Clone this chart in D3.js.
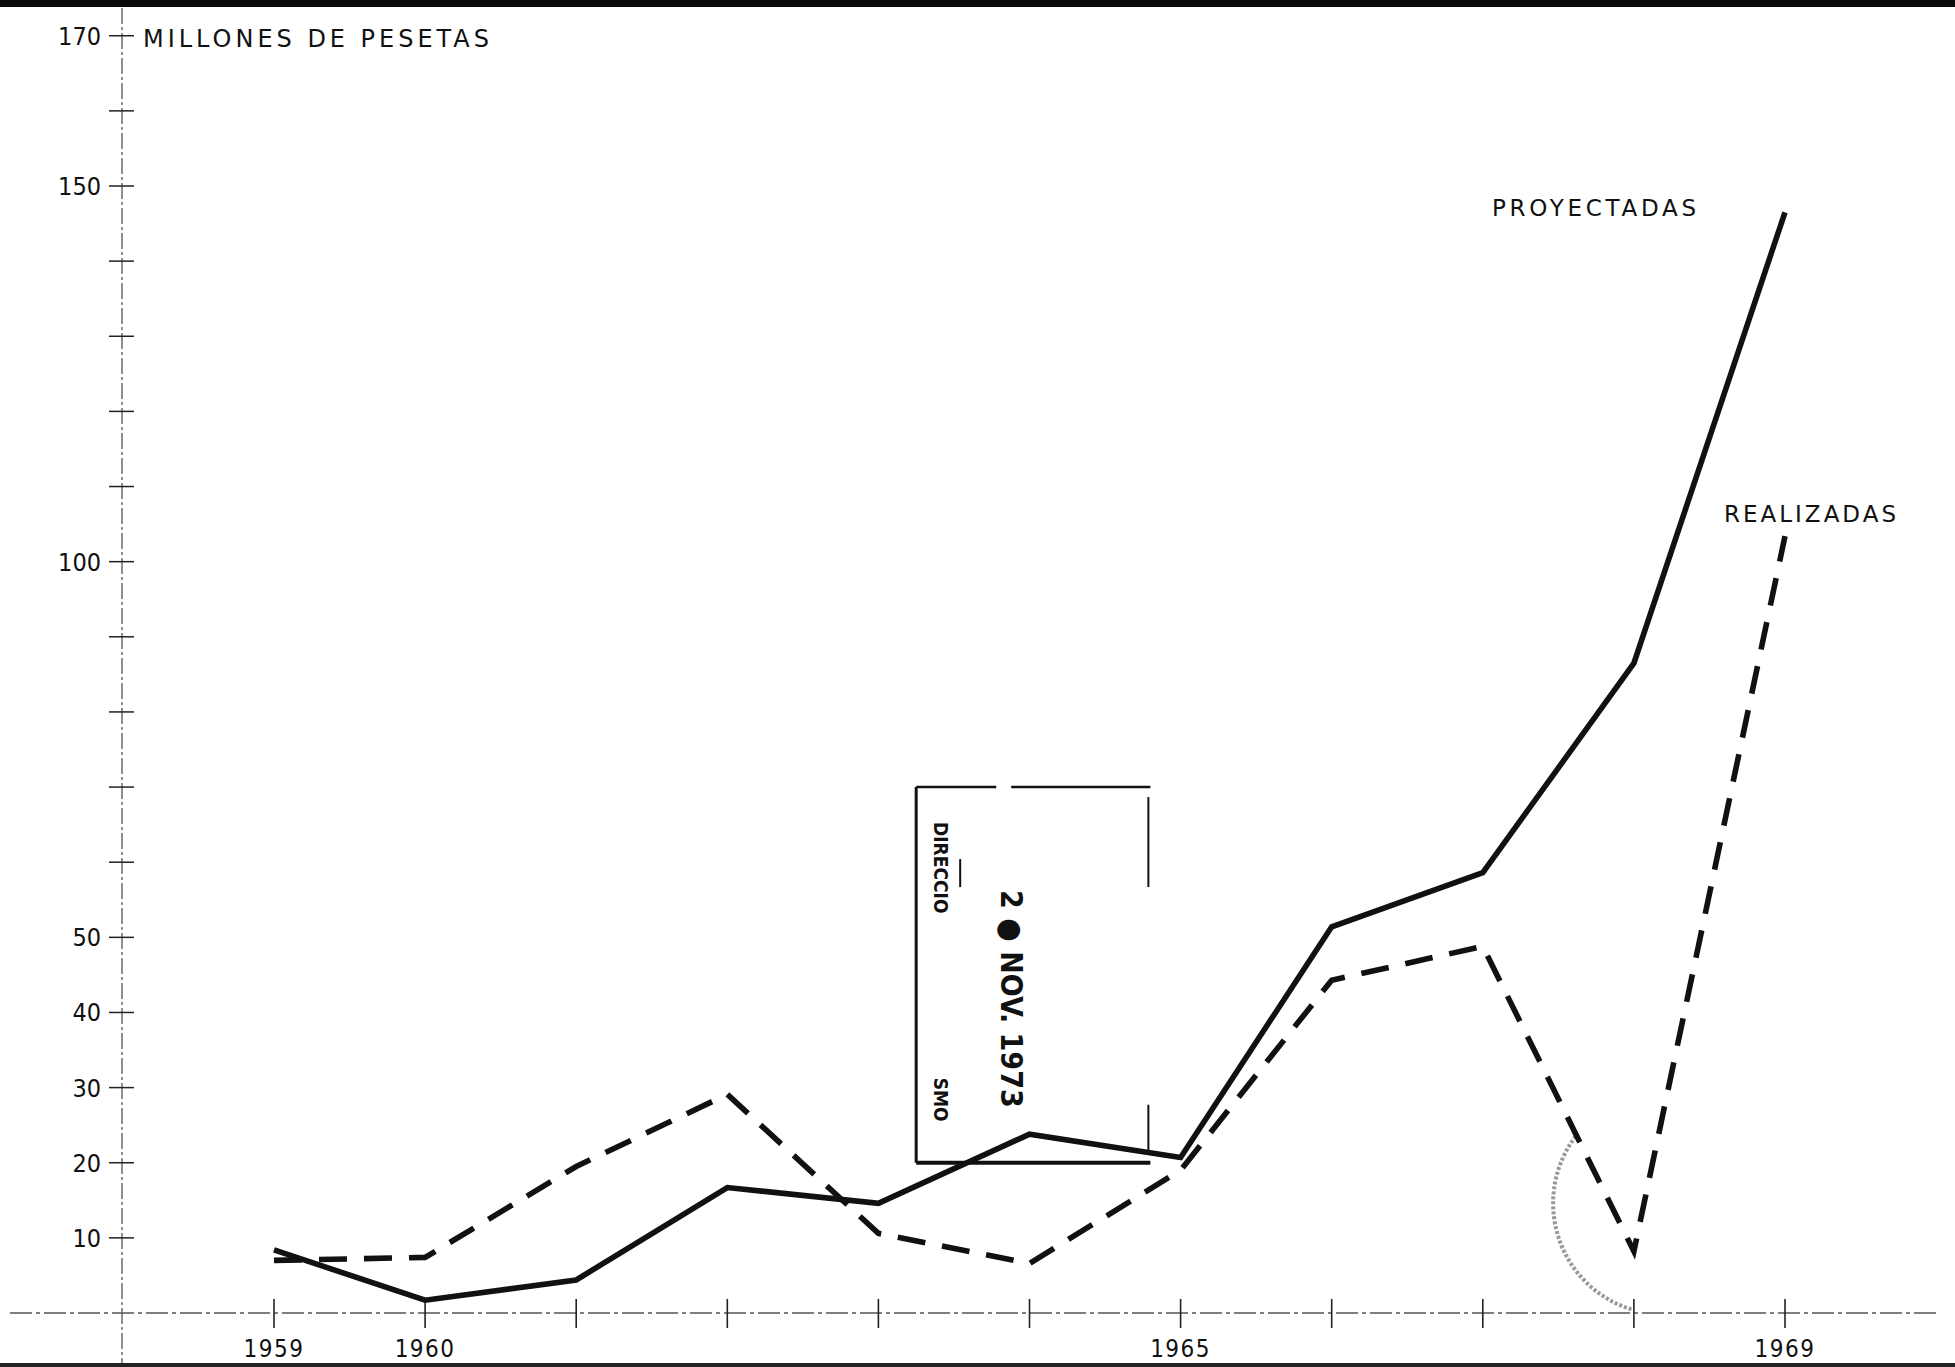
<!DOCTYPE html>
<html>
<head>
<meta charset="utf-8">
<script src="https://cdn.jsdelivr.net/npm/d3@7"></script>
<style>
  html, body { margin: 0; padding: 0; background: #ffffff; }
  svg { display: block; }
</style>
</head>
<body>
<div id="chart"></div>
<script>
// ---- data ----
const years = [1959, 1960, 1961, 1962, 1963, 1964, 1965, 1966, 1967, 1968, 1969];
const proyectadas = [8.4, 1.7, 4.4, 16.7, 14.6, 23.8, 20.7, 51.4, 58.6, 86.5, 146.5];
const realizadas  = [7.0, 7.4, 19.5, 29.1, 10.6, 6.6, 19.0, 44.3, 48.8, 8.2, 103.4];
const yTickValues = [10, 20, 30, 40, 50, 60, 70, 80, 90, 100, 110, 120, 130, 140, 150, 160, 170];
const yTickLabels = [10, 20, 30, 40, 50, 100, 150, 170];
const xTickLabels = [1959, 1960, 1965, 1969];
const unitLabel = "MILLONES DE PESETAS";
const seriesNames = ["PROYECTADAS", "REALIZADAS"];
// stamp (scan annotation) extents in data units
const stampYears = [1963.25, 1964.8];
const stampValues = [20, 70];

const W = 1955, H = 1367;
const svg = d3.select("#chart").append("svg").attr("width", W).attr("height", H);
svg.append("rect").attr("width", W).attr("height", H).attr("fill", "#fff");

const x = d3.scaleLinear().domain([1959, 1969]).range([274, 1785]);
const y = d3.scaleLinear().domain([0, 150]).range([1313, 186]);
const axisX = 122;
const ink = "#111";
const fontNum = "'DejaVu Sans Condensed', 'DejaVu Sans', sans-serif";
const fontTxt = "'DejaVu Sans', 'Liberation Sans', sans-serif";

// page borders (scan frame)
svg.append("rect").attr("x", 0).attr("y", 0).attr("width", W).attr("height", 7).attr("fill", "#0a0a0a");
svg.append("rect").attr("x", 0).attr("y", H - 4).attr("width", W).attr("height", 4).attr("fill", "#222");

// y axis line
svg.append("line").attr("x1", axisX).attr("x2", axisX).attr("y1", 8).attr("y2", H - 4)
  .attr("stroke", "#555").attr("stroke-width", 1.3).attr("stroke-dasharray", "16,3,3,3");
// y ticks (crossing)
svg.append("g").selectAll("line").data(yTickValues).join("line")
  .attr("x1", axisX - 13).attr("x2", axisX + 12)
  .attr("y1", d => y(d)).attr("y2", d => y(d))
  .attr("stroke", "#222").attr("stroke-width", 1.5);
svg.append("g").selectAll("text").data(yTickLabels).join("text")
  .attr("x", axisX - 21).attr("y", d => y(d) + 9)
  .attr("text-anchor", "end").attr("font-family", fontNum).attr("font-size", 25)
  .attr("fill", ink).text(d => d);

// x axis line
svg.append("line").attr("x1", 10).attr("x2", 1940).attr("y1", y(0)).attr("y2", y(0))
  .attr("stroke", "#555").attr("stroke-width", 1.5).attr("stroke-dasharray", "22,4,4,4");
svg.append("g").selectAll("line").data(years).join("line")
  .attr("x1", d => x(d)).attr("x2", d => x(d))
  .attr("y1", y(0) - 14).attr("y2", y(0) + 15)
  .attr("stroke", "#222").attr("stroke-width", 1.6);
svg.append("g").selectAll("text").data(xTickLabels).join("text")
  .attr("x", d => x(d)).attr("y", y(0) + 44)
  .attr("text-anchor", "middle").attr("font-family", fontNum).attr("font-size", 24)
  .attr("letter-spacing", 1.5).attr("fill", ink).text(d => d);

// unit label
svg.append("text").attr("x", 143).attr("y", y(170) + 11)
  .attr("font-family", fontTxt).attr("font-size", 24).attr("fill", ink)
  .attr("textLength", 346).attr("lengthAdjust", "spacing").text(unitLabel);

// stamp box (annotation from scan)
const sx0 = x(stampYears[0]), sx1 = x(stampYears[1]);
const sy0 = y(stampValues[1]), sy1 = y(stampValues[0]);
const stamp = svg.append("g").attr("fill", "none").attr("stroke", ink);
stamp.append("line").attr("x1", sx0).attr("x2", sx0).attr("y1", sy0).attr("y2", sy1).attr("stroke-width", 3);
stamp.append("line").attr("x1", sx0).attr("x2", sx0 + 80).attr("y1", sy0).attr("y2", sy0).attr("stroke-width", 2.5);
stamp.append("line").attr("x1", sx0 + 95).attr("x2", sx1).attr("y1", sy0).attr("y2", sy0).attr("stroke-width", 2.5);
stamp.append("line").attr("x1", sx0).attr("x2", sx1).attr("y1", sy1).attr("y2", sy1).attr("stroke-width", 4);
stamp.append("line").attr("x1", sx1 - 2).attr("x2", sx1 - 2).attr("y1", sy0 + 10).attr("y2", sy0 + 100).attr("stroke-width", 2);
stamp.append("line").attr("x1", sx1 - 2).attr("x2", sx1 - 2).attr("y1", sy1 - 58).attr("y2", sy1 - 8).attr("stroke-width", 2);
stamp.append("line").attr("x1", sx0 + 44).attr("x2", sx0 + 44).attr("y1", sy0 + 72).attr("y2", sy0 + 100).attr("stroke-width", 2);
const stampText = (txt, cx, cy, size, weight) =>
  svg.append("text").attr("transform", `translate(${cx},${cy}) rotate(90)`)
    .attr("font-family", fontNum).attr("font-size", size).attr("font-weight", weight)
    .attr("fill", ink).attr("dominant-baseline", "central").text(txt);
stampText("DIRECCIO", sx0 + 25, sy0 + 35, 19, "bold");
stampText("2 ● NOV. 1973", sx0 + 95, sy0 + 103, 30, "bold");
stampText("SMO", sx0 + 25, sy1 - 85, 19, "bold");

// faint round stamp arc (left part of a circle)
const cx = x(1968.2), cy = y(14.6), r = 111;
const p = d3.path();
p.arc(cx, cy, r, 3.79, 1.85, true);
svg.append("path").attr("d", p.toString())
  .attr("fill", "none").attr("stroke", "#555").attr("stroke-width", 4)
  .attr("stroke-dasharray", "3,2").attr("opacity", 0.6);

// series lines
const line = d3.line().x((d, i) => x(years[i])).y(d => y(d));
svg.append("path").datum(realizadas).attr("d", line)
  .attr("fill", "none").attr("stroke", ink).attr("stroke-width", 5.6)
  .attr("stroke-dasharray", "28,17").attr("stroke-linejoin", "miter");
svg.append("path").datum(proyectadas).attr("d", line)
  .attr("fill", "none").attr("stroke", ink).attr("stroke-width", 5.6)
  .attr("stroke-linejoin", "miter");

// series labels
svg.append("text").attr("x", 1492).attr("y", 216)
  .attr("font-family", fontTxt).attr("font-size", 23).attr("fill", ink)
  .attr("textLength", 204).attr("lengthAdjust", "spacing").text(seriesNames[0]);
svg.append("text").attr("x", 1724).attr("y", 522)
  .attr("font-family", fontTxt).attr("font-size", 23).attr("fill", ink)
  .attr("textLength", 172).attr("lengthAdjust", "spacing").text(seriesNames[1]);
</script>
</body>
</html>
